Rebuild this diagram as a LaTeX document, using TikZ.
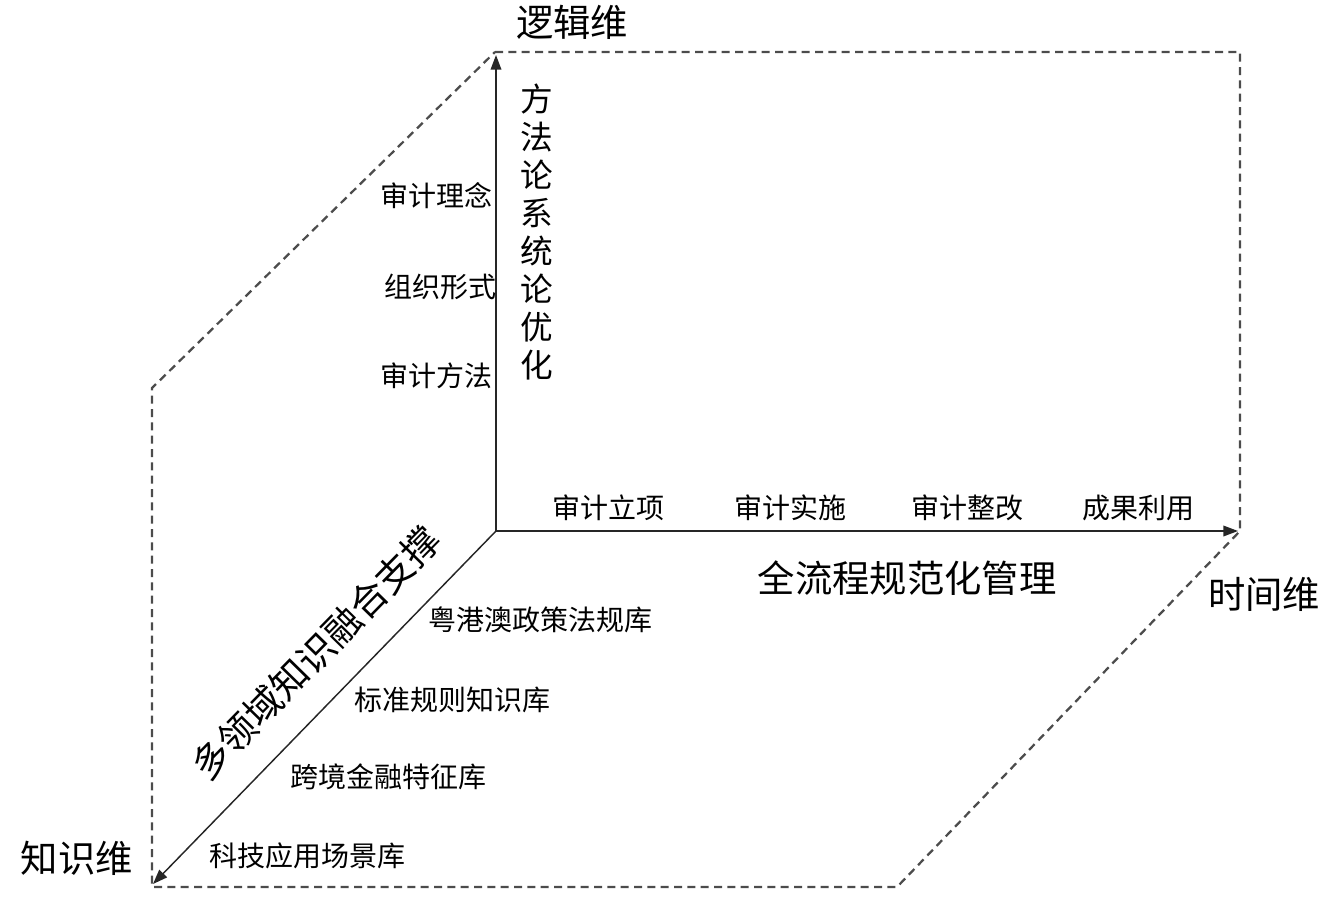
\documentclass[tikz,border=0pt]{standalone}
\usepackage{fontspec}
\setmainfont{Noto Sans CJK SC}
\usetikzlibrary{arrows.meta}
\begin{document}
\begin{tikzpicture}[x=0.75pt,y=-0.75pt,
  axis/.style={line width=1.1pt,draw=black!85,-{Triangle[length=11pt,width=8pt]}},
  frame/.style={line width=1.7pt,draw=black!70,dash pattern=on 6pt off 4pt},
  small/.style={inner sep=0pt,font=\fontsize{21}{25}\selectfont},
  big/.style={inner sep=0pt,font=\fontsize{28}{32}\selectfont},
  vert/.style={inner sep=0pt,align=center,font=\fontsize{24.5}{28.5}\selectfont}]
\useasboundingbox (0,0) rectangle (1329,900);
% axis points
\coordinate (O) at (496,531);
\coordinate (Ztip) at (496,55);
\coordinate (Xtip) at (1238,531);
\coordinate (Ytip) at (153,884);
% dashed frame corners
\coordinate (A) at (495,52);
\coordinate (B) at (1240,52);
\coordinate (C) at (1240,531);
\coordinate (D) at (897,887);
\coordinate (E) at (152,887);
\coordinate (F) at (152,388);
\draw[frame] (A) -- (B) -- (C) -- (D) -- (E) -- (F) -- cycle;
% axes
\draw[axis] (O) -- (Ztip);
\draw[axis] (O) -- (Xtip);
\draw[axis] (O) -- (Ytip);
% axis titles
\node[big] (lz) at (572,22) {逻辑维};
\node[big] (lx) at (1264,594) {时间维};
\node[big] (ly) at (77,858) {知识维};
% logic dimension
\node[vert] (meth) at (537,232) {方\\法\\论\\系\\统\\论\\优\\化};
\node[small] (z1) at (436,196) {审计理念};
\node[small] (z2) at (440,287) {组织形式};
\node[small] (z3) at (436,376) {审计方法};
% time dimension
\node[small] (x1) at (608,508) {审计立项};
\node[small] (x2) at (790,508) {审计实施};
\node[small] (x3) at (967,508) {审计整改};
\node[small] (x4) at (1138,508) {成果利用};
\node[big] (xt) at (907,578) {全流程规范化管理};
% knowledge dimension
\node[big,rotate=45.6] (yt) at (316,653) {多领域知识融合支撑};
\node[small] (y1) at (540,620) {粤港澳政策法规库};
\node[small] (y2) at (452,700) {标准规则知识库};
\node[small] (y3) at (388,777) {跨境金融特征库};
\node[small] (y4) at (307,856) {科技应用场景库};
\end{tikzpicture}
\end{document}
